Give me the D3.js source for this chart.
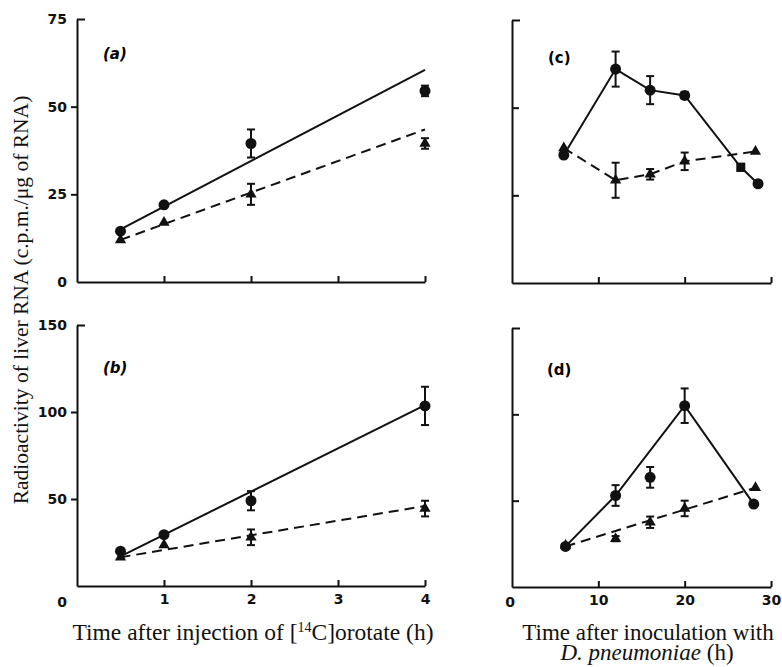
<!DOCTYPE html>
<html>
<head>
<meta charset="utf-8">
<script src="https://cdn.jsdelivr.net/npm/d3@7"></script>
<style>
  body { margin: 0; background: #fff; }
  svg { display: block; }
  .tick text, .num { font-family: "DejaVu Sans", sans-serif; font-weight: bold; font-size: 14px; fill: #111; }
  .lbl { font-family: "Liberation Serif", "DejaVu Serif", serif; fill: #111; }
</style>
</head>
<body>
<div id="chart"></div>
<script>
// panel (a) / (b): hours after [14C]orotate injection
const hoursAB = [0.5, 1, 2, 4];
const aCircle = [14.5, 22, 39.5, 54.5];
const aCircleErr = [0, 0, 4, 1.5];
const aTri = [12, 17, 25, 39.5];
const aTriErr = [0, 0, 3, 1.5];
const fitHoursAB = [0.5, 4];
const aFitCircle = [15, 60.5];
const aFitTri = [12, 43.5];

const bCircle = [20, 29.5, 49, 103.5];
const bCircleErr = [0, 0, 5.5, 11];
const bTri = [16.5, 23.5, 28, 44.5];
const bTriErr = [0, 0, 4.5, 4.5];
const bFitCircle = [17, 104];
const bFitTri = [16.5, 46];

// panel (c): hours after inoculation
const cCircleHours = [6, 12, 16, 20, 26.5, 28.5];
const cCircle = [36.5, 61, 55, 53.5, 33, 28.3];
const cCircleErr = [0, 5, 4, 1, 1, 0];
const cCircleShape = ["circle", "circle", "circle", "circle", "square", "circle"];
const cTriHours = [6, 12, 16, 20, 28.2];
const cTri = [38.5, 29.3, 31, 34.7, 37.5];
const cTriErr = [0, 5, 1.5, 2.5, 0];

// panel (d)
const dCircleHours = [6.2, 12, 16, 20, 28];
const dCircle = [23.5, 53, 63.5, 105, 48];
const dCircleErr = [0, 6, 6, 10, 0];
const dOnLine = [true, true, false, true, true];
const dTriHours = [6.2, 12, 16, 20, 28.2];
const dTri = [24, 28, 37.5, 45.5, 57.5];
const dTriErr = [0, 1.5, 3.3, 4.5, 0];
const fitHoursD = [6.2, 28.2];
const dFitTri = [23.5, 57.5];

const ticksLeftX = [1, 2, 3, 4];
const ticksRightX = [10, 20, 30];

const svg = d3.select("#chart").append("svg")
  .attr("width", 782).attr("height", 667);

const xLeft = d3.scaleLinear().domain([0, 4]).range([77, 425]);
const xRight = d3.scaleLinear().domain([0, 30]).range([512, 771]);
const yA = d3.scaleLinear().domain([0, 75]).range([282, 19]);
const yB = d3.scaleLinear().domain([0, 150]).range([586, 325]);
const yC = d3.scaleLinear().domain([0, 75]).range([283, 20]);
const yD = d3.scaleLinear().domain([0, 150]).range([587, 328]);

function drawAxes(x, y, xTicks, yTicks, opts) {
  const g = svg.append("g");
  const y0 = y.range()[0];
  const x0 = x.range()[0];
  // x axis, ticks pointing up
  const xa = g.append("g").attr("transform", `translate(0,${y0})`)
    .call(d3.axisBottom(x).tickValues(xTicks).tickSize(-6).tickSizeOuter(0).tickPadding(8)
      .tickFormat(opts.xLabels ? d3.format("d") : ""));
  // y axis
  const ya = g.append("g").attr("transform", `translate(${x0},0)`)
    .call(d3.axisLeft(y).tickValues(yTicks).tickSize(opts.yInward ? -7 : 6).tickSizeOuter(0).tickPadding(4)
      .tickFormat(opts.yLabels ? d3.format("d") : ""));
  // top cap pointing inward
  const yTop = y.range()[1];
  ya.selectAll(".tick").filter(d => y(d) === yTop).select("line").attr("x2", 8);
  [xa, ya].forEach(a => {
    a.select(".domain").attr("stroke", "#111").attr("stroke-width", 2);
    a.selectAll(".tick line").attr("stroke", "#111").attr("stroke-width", 2);
  });
  if (opts.zero) {
    svg.append("text").attr("class", "num")
      .attr("x", opts.zero[0]).attr("y", opts.zero[1])
      .attr("text-anchor", "middle").attr("dy", "0.35em")
      .text("0");
  }
}

function drawLine(x, y, hours, values, dashed) {
  svg.append("path")
    .datum(hours.map((h, i) => [h, values[i]]))
    .attr("fill", "none")
    .attr("stroke", "#111")
    .attr("stroke-width", 2)
    .attr("stroke-dasharray", dashed ? "10,6" : null)
    .attr("d", d3.line().x(d => x(d[0])).y(d => y(d[1])));
}

function drawPoints(x, y, hours, values, errs, shape) {
  const g = svg.append("g");
  hours.forEach((h, i) => {
    const cx = x(h), cy = y(values[i]);
    if (errs[i] > 0) {
      const top = y(values[i] + errs[i]), bot = y(values[i] - errs[i]);
      g.append("line").attr("x1", cx).attr("x2", cx).attr("y1", top).attr("y2", bot)
        .attr("stroke", "#111").attr("stroke-width", 2);
      [top, bot].forEach(v => g.append("line").attr("x1", cx - 4).attr("x2", cx + 4)
        .attr("y1", v).attr("y2", v).attr("stroke", "#111").attr("stroke-width", 2));
    }
    const s = Array.isArray(shape) ? shape[i] : shape;
    if (s === "circle") {
      g.append("circle").attr("cx", cx).attr("cy", cy).attr("r", 5.5).attr("fill", "#111");
    } else if (s === "square") {
      g.append("rect").attr("x", cx - 4.5).attr("y", cy - 4.5).attr("width", 9).attr("height", 9).attr("fill", "#111");
    } else {
      g.append("path").attr("transform", `translate(${cx},${cy})`)
        .attr("d", d3.symbol(d3.symbolTriangle, 55)).attr("fill", "#111");
    }
  });
}

function panelLabel(x, y, t, italic) {
  svg.append("text").attr("x", x).attr("y", y)
    .style("font-family", "'DejaVu Sans', sans-serif").style("font-weight", "bold")
    .style("font-style", italic ? "italic" : "normal").style("font-size", "15px")
    .text(t);
}

// (a)
drawAxes(xLeft, yA, ticksLeftX, [25, 50, 75], { yLabels: true, xLabels: false, zero: [62, 282] });
drawLine(xLeft, yA, fitHoursAB, aFitCircle, false);
drawLine(xLeft, yA, fitHoursAB, aFitTri, true);
drawPoints(xLeft, yA, hoursAB, aCircle, aCircleErr, "circle");
drawPoints(xLeft, yA, hoursAB, aTri, aTriErr, "triangle");
panelLabel(103, 59, "(a)", true);

// (b)
drawAxes(xLeft, yB, ticksLeftX, [50, 100, 150], { yLabels: true, xLabels: true, zero: [62, 602] });
drawLine(xLeft, yB, fitHoursAB, bFitCircle, false);
drawLine(xLeft, yB, fitHoursAB, bFitTri, true);
drawPoints(xLeft, yB, hoursAB, bCircle, bCircleErr, "circle");
drawPoints(xLeft, yB, hoursAB, bTri, bTriErr, "triangle");
panelLabel(103, 373, "(b)", true);

// (c)
drawAxes(xRight, yC, ticksRightX, [25, 50, 75], { yInward: true, yLabels: false, xLabels: false });
drawLine(xRight, yC, cCircleHours, cCircle, false);
drawLine(xRight, yC, cTriHours, cTri, true);
drawPoints(xRight, yC, cCircleHours, cCircle, cCircleErr, cCircleShape);
drawPoints(xRight, yC, cTriHours, cTri, cTriErr, "triangle");
panelLabel(548, 63, "(c)", false);

// (d)
drawAxes(xRight, yD, ticksRightX, [50, 100, 150], { yInward: true, yLabels: false, xLabels: true, zero: [510, 602] });
drawLine(xRight, yD, dCircleHours.filter((h, i) => dOnLine[i]), dCircle.filter((v, i) => dOnLine[i]), false);
drawLine(xRight, yD, fitHoursD, dFitTri, true);
drawPoints(xRight, yD, dCircleHours, dCircle, dCircleErr, "circle");
drawPoints(xRight, yD, dTriHours, dTri, dTriErr, "triangle");
panelLabel(547, 375, "(d)", false);

// axis titles
svg.append("text").attr("class", "lbl")
  .attr("transform", "translate(28,300) rotate(-90)")
  .attr("text-anchor", "middle").style("font-size", "21.5px")
  .text("Radioactivity of liver RNA (c.p.m./\u03bcg of RNA)");

const left = svg.append("text").attr("class", "lbl")
  .attr("x", 253).attr("y", 640).attr("text-anchor", "middle").style("font-size", "23.5px");
left.append("tspan").text("Time after injection of [");
left.append("tspan").attr("dy", -8).style("font-size", "14px").text("14");
left.append("tspan").attr("dy", 8).text("C]orotate (h)");

const right = svg.append("text").attr("class", "lbl")
  .attr("text-anchor", "middle").style("font-size", "23px");
right.append("tspan").attr("x", 648).attr("y", 640).text("Time after inoculation with");
right.append("tspan").attr("x", 647).attr("y", 660).style("font-style", "italic").text("D. pneumoniae");
right.append("tspan").text(" (h)");
</script>
</body>
</html>
